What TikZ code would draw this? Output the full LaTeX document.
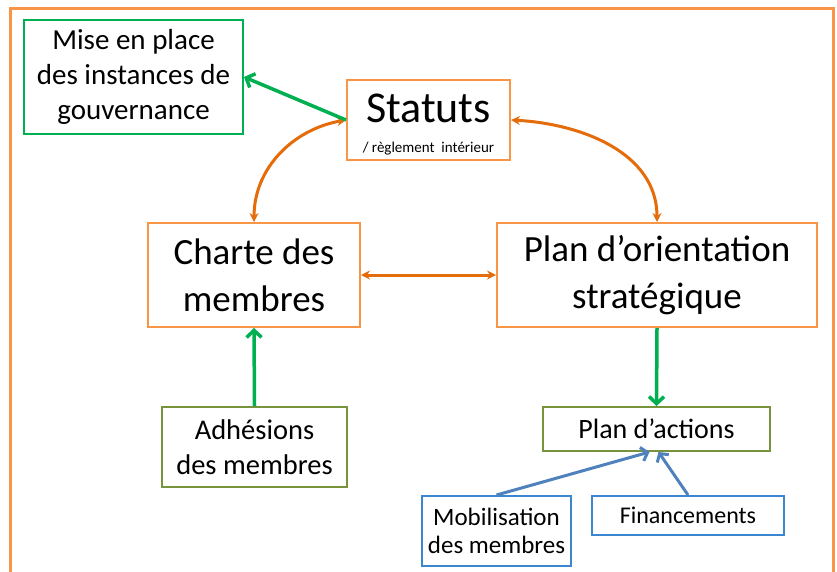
\documentclass[tikz,border=0pt]{standalone}
\usepackage{fontspec}
\setmainfont{Carlito}
\usetikzlibrary{arrows.meta}
\definecolor{frameorange}{HTML}{F79646}
\definecolor{arroworange}{HTML}{E46C0A}
\definecolor{boxgreen}{HTML}{00B050}
\definecolor{olivegreen}{HTML}{77933C}
\definecolor{boxblue}{HTML}{3A86D0}
\definecolor{arrowblue}{HTML}{4F81BD}

\begin{document}
\begin{tikzpicture}[
    x=1pt, y=-1pt,
    box/.style={rectangle, draw, line width=2pt, inner sep=0pt, align=center},
    core/.style={box, draw=frameorange},
    goal/.style={box, draw=boxgreen},
    input/.style={box, draw=olivegreen},
    resource/.style={box, draw=boxblue},
    link/.style={<->, line width=3pt, arroworange, >={Stealth[length=9pt,width=9pt]}},
    feed/.style={->, line width=3.5pt, boxgreen, >={Straight Barb[length=7pt,width=15pt]}},
    support/.style={->, line width=3pt, arrowblue, >={Straight Barb[length=6pt,width=14pt]}}
]
\useasboundingbox (0,0) rectangle (837,571);
\clip (0,0) rectangle (837,571);

% Outer frame
\draw[frameorange, line width=3pt] (10,8) rectangle (833,610);

% Core documents
\node[core, minimum width=163pt, minimum height=80pt, font=\fontsize{44}{30}\selectfont] (statuts) at (428.5,120) {\rule{0pt}{38pt}Statuts\\{\fontsize{15}{30}\selectfont / règlement\ \ intérieur}};
\node[core, minimum width=212pt, minimum height=104pt, font=\fontsize{37}{47}\selectfont] (charte) at (254,275) {Charte des\\membres};
\node[core, minimum width=320pt, minimum height=104pt, font=\fontsize{37}{47}\selectfont] (plan) at (657,275) {Plan d’orientation\\stratégique};

% Governance
\node[goal, minimum width=219pt, minimum height=114pt, font=\fontsize{29}{35}\selectfont] (instances) at (133.5,77) {Mise en place\\des instances de\\gouvernance};

% Members and actions
\node[input, minimum width=185pt, minimum height=80pt, font=\fontsize{28.5}{35}\selectfont] (adhesions) at (254.5,447) {Adhésions\\des membres};
\node[input, minimum width=227pt, minimum height=44pt, font=\fontsize{28}{34}\selectfont] (actions) at (656.5,429) {Plan d’actions};

% Resources
\node[resource, minimum width=149pt, minimum height=70pt, font=\fontsize{25}{28}\selectfont] (mobilisation) at (496.5,531) {Mobilisation\\des membres};
\node[resource, minimum width=192pt, minimum height=39pt, font=\fontsize{24}{28}\selectfont] (financements) at (688,515.5) {Financements};

% Links between core documents
\draw[link] (charte.north) to[out=90, in=190] (statuts.west);
\draw[link] (statuts.east) to[out=-3, in=90] (plan.north);
\draw[link] (charte.east) -- (plan.west);

% Green arrows
\draw[feed] (statuts.west) -- (instances.east);
\draw[feed] (plan.south) -- (actions.north);
\draw[feed] (adhesions.north) -- (charte.south);

% Blue arrows
\draw[support] (mobilisation.north) -- ([xshift=-7pt]actions.south);
\draw[support] (financements.north) -- ([xshift=2pt]actions.south);
\end{tikzpicture}
\end{document}
